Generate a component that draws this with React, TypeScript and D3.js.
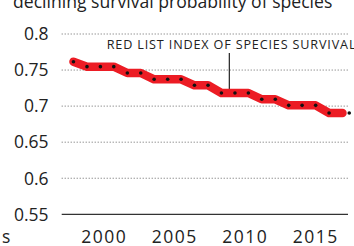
import React from "react";
import * as d3 from "d3";

const years = [
  1997.82, 1998.78, 1999.73, 2000.68, 2001.64, 2002.59, 2003.54, 2004.5, 2005.45,
  2006.4, 2007.36, 2008.31, 2009.27, 2010.22, 2011.17, 2012.13, 2013.08, 2014.03,
  2014.99, 2015.94, 2016.89,
];
const rli = [
  0.7616, 0.7547, 0.7547, 0.7547, 0.7459, 0.7459, 0.7372, 0.7372, 0.7372, 0.7289,
  0.7289, 0.7182, 0.7182, 0.7182, 0.7095, 0.7095, 0.7011, 0.7011, 0.7011, 0.6905,
  0.6905,
];
const latestYear = 2017.37;
const latestValue = 0.6905;
const yTicks = [0.55, 0.6, 0.65, 0.7, 0.75, 0.8];
const xTicks = [2000, 2005, 2010, 2015];
const title = "declining survival probability of species";
const annotationText = "RED LIST INDEX OF SPECIES SURVIVAL";
const annotationYear = 2008.87;
const annotationValue = 0.7196;
const footText = "s";

const W = 354;
const H = 246;
const FONT = "'Open Sans', 'Noto Sans', sans-serif";

export default function App() {
  const x = d3.scaleLinear().domain([2000, 2015]).range([104.2, 315.8]);
  const y = d3.scaleLinear().domain([0.55, 0.8]).range([214.3, 34]);
  const gridLeft = 61.7;
  const gridRight = 348;
  const pts = years.map((yr, i) => [x(yr), y(rli[i])] as [number, number]);
  const line = d3.line<[number, number]>().x((d) => d[0]).y((d) => d[1]);
  const ax = x(annotationYear);

  return (
    <svg
      width={W}
      height={H}
      style={{ position: "absolute", left: 0, top: 0, background: "#fff" }}
      fontFamily={FONT}
    >
      <text x={13} y={7.5} fontSize={17.6} fill="#222">
        {title}
      </text>
      {yTicks.map((t) => (
        <g key={t}>
          <line
            x1={gridLeft}
            x2={gridRight}
            y1={y(t)}
            y2={y(t)}
            stroke={t === 0.55 ? "#333" : "#666"}
            strokeWidth={t === 0.55 ? 1.2 : 1}
            strokeDasharray={t === 0.55 ? undefined : "1,2"}
          />
          <text
            x={48.5}
            y={y(t)}
            dy="0.36em"
            textAnchor="end"
            fontSize={17.5}
            fill="#222"
          >
            {String(t)}
          </text>
        </g>
      ))}
      {xTicks.map((t) => (
        <text
          key={t}
          x={x(t)}
          y={242.5}
          textAnchor="middle"
          fontSize={17.5}
          letterSpacing={1.5}
          fill="#222"
        >
          {String(t)}
        </text>
      ))}
      <text x={2} y={242.5} fontSize={17.5} fill="#222">
        {footText}
      </text>
      <line x1={ax} x2={ax} y1={53} y2={y(annotationValue)} stroke="#222" strokeWidth={1.2} />
      <text x={x(2000.18)} y={49} fontSize={12.6} letterSpacing={0.85} fill="#222">
        {annotationText}
      </text>
      <path
        d={line(pts) || ""}
        fill="none"
        stroke="#ec1c24"
        strokeWidth={8.5}
        strokeLinecap="round"
        strokeLinejoin="round"
      />
      {pts.slice(0, pts.length - 1).map((p, i) => (
        <circle key={i} cx={p[0]} cy={p[1]} r={1.8} fill="#111" />
      ))}
      <circle cx={x(latestYear)} cy={y(latestValue)} r={1.8} fill="#111" />
    </svg>
  );
}
